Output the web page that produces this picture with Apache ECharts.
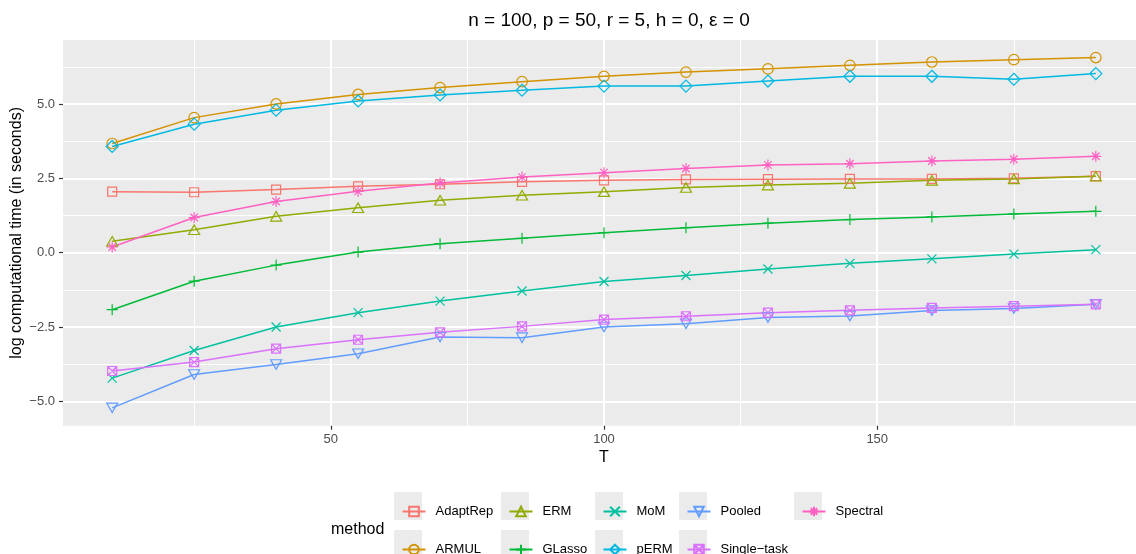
<!DOCTYPE html>
<html>
<head>
<meta charset="utf-8">
<script src="https://cdn.jsdelivr.net/npm/echarts@6/dist/echarts.min.js"></script>
<style>
html,body{margin:0;padding:0;background:#fff;}
#chart{width:1136px;height:554px;}
</style>
</head>
<body>
<div id="chart"></div>
<script>
// ---- data ----
const T = [10, 25, 40, 55, 70, 85, 100, 115, 130, 145, 160, 175, 190];
const methods = ['AdaptRep', 'ARMUL', 'ERM', 'GLasso', 'MoM', 'pERM', 'Pooled', 'Single-task', 'Spectral'];
const adaptRep   = [2.05, 2.03, 2.12, 2.23, 2.30, 2.38, 2.43, 2.46, 2.47, 2.48, 2.48, 2.50, 2.57];
const armul      = [3.67, 4.54, 5.00, 5.32, 5.55, 5.75, 5.93, 6.07, 6.18, 6.30, 6.41, 6.49, 6.56];
const erm        = [0.38, 0.77, 1.22, 1.51, 1.76, 1.93, 2.05, 2.19, 2.27, 2.33, 2.43, 2.48, 2.57];
const glasso     = [-1.92, -0.96, -0.42, 0.02, 0.30, 0.48, 0.67, 0.84, 0.99, 1.11, 1.20, 1.30, 1.39];
const mom        = [-4.22, -3.29, -2.50, -2.02, -1.63, -1.29, -0.97, -0.77, -0.55, -0.36, -0.21, -0.05, 0.10];
const perm       = [3.57, 4.32, 4.79, 5.10, 5.30, 5.46, 5.60, 5.60, 5.77, 5.93, 5.93, 5.83, 6.02];
const pooled     = [-5.22, -4.10, -3.76, -3.40, -2.84, -2.86, -2.50, -2.39, -2.18, -2.13, -1.95, -1.88, -1.74];
const singleTask = [-3.98, -3.68, -3.23, -2.93, -2.68, -2.48, -2.25, -2.14, -2.02, -1.94, -1.86, -1.80, -1.74];
const spectral   = [0.19, 1.18, 1.72, 2.06, 2.34, 2.54, 2.69, 2.83, 2.95, 2.99, 3.08, 3.14, 3.24];
const values = [adaptRep, armul, erm, glasso, mom, perm, pooled, singleTask, spectral];

const xTicks = [50, 100, 150];
const xMinor = [25, 75, 125, 175];
const yTicks = [-5, -2.5, 0, 2.5, 5];
const yMinor = [-3.75, -1.25, 1.25, 3.75, 6.25];

const titleText = 'n = 100, p = 50, r = 5, h = 0, \u03b5 = 0';
const xName = 'T';
const yName = 'log computational time (in seconds)';
const legendTitle = 'method';

// ---- styles ----
const colors = ['#F8766D', '#D39200', '#93AA00', '#00BA38', '#00C19F', '#00B9E3', '#619CFF', '#DB72FB', '#FF61C3'];
const symbols = [
  'rect',
  'circle',
  'triangle',
  'path://M5,0L5,10M0,5L10,5',
  'path://M0,0L10,10M10,0L0,10',
  'diamond',
  'path://M0,0L10,0L5,8.66Z',
  'path://M0,0L10,0L10,10L0,10ZM0,0L10,10M10,0L0,10',
  'path://M5,0L5,10M0,5L10,5M1.6,1.6L8.4,8.4M8.4,1.6L1.6,8.4'
];
const symbolSizes = [9, 10.5, [11, 9.5], 11, 9, 12, [11, 9.5], 9, 11];
const FONT = '"Liberation Sans", Arial, sans-serif';
const X_MIN = 1, X_MAX = 199, Y_MIN = -5.82, Y_MAX = 7.15;

const series = [];
methods.forEach((m, i) => {
  series.push({
    type: 'line', name: m, z: 3,
    data: T.map((t, j) => [t, values[i][j]]),
    symbol: symbols[i], symbolSize: symbolSizes[i], showAllSymbol: true,
    lineStyle: {color: colors[i], width: 1.5},
    itemStyle: {color: 'rgba(0,0,0,0)', borderColor: colors[i], borderWidth: 1.2},
    emphasis: {disabled: true}
  });
});

// legend: column-major, 2 rows
const colLeft = [394, 501, 595, 679, 794];
const rowCenter = [506, 544];
const legends = [];
const graphics = [];
methods.forEach((m, i) => {
  const c = Math.floor(i / 2), r = i % 2;
  graphics.push({type: 'rect', left: colLeft[c], top: rowCenter[r] - 14, shape: {width: 28, height: 28}, style: {fill: '#EBEBEB'}, z: 0});
  legends.push({
    data: [m], left: colLeft[c] + 2.5, top: rowCenter[r] - 6,
    itemWidth: 23, itemHeight: 12, selectedMode: false,
    formatter: n => n.replace('-', '\u2212'),
    textStyle: {fontSize: 13, color: '#000', fontFamily: FONT, padding: [0, 0, 0, 5]}
  });
});

const chart = echarts.init(document.getElementById('chart'), null, {renderer: 'canvas'});
chart.setOption({
  animation: false,
  backgroundColor: '#ffffff',
  title: [
    {text: titleText, left: 604, top: 6, textAlign: 'center',
     textStyle: {fontSize: 19, fontWeight: 'normal', color: '#000', fontFamily: FONT}},
    {text: legendTitle, left: 326, top: 517,
     textStyle: {fontSize: 16, fontWeight: 'normal', color: '#000', fontFamily: FONT}}
  ],
  grid: {left: 63, top: 40, right: -9, bottom: 128.3, show: true, backgroundColor: '#EBEBEB', borderWidth: 0,
         containLabel: false, outerBoundsMode: 'none'},
  xAxis: [{
    type: 'value', min: X_MIN, max: X_MAX,
    name: xName, nameLocation: 'middle', nameGap: 24, nameMoveOverlap: false,
    nameTextStyle: {fontSize: 16, color: '#000', fontFamily: FONT},
    axisLine: {show: false, onZero: false},
    axisTick: {show: true, customValues: xTicks, length: 4, lineStyle: {color: '#333333', width: 1.2}},
    axisLabel: {customValues: xTicks, margin: 7, fontSize: 13, color: '#4D4D4D', fontFamily: FONT, formatter: v => String(v)},
    splitLine: {show: true, lineStyle: {color: '#ffffff', width: 2}},
    z: 1
  }, {
    type: 'value', min: X_MIN, max: X_MAX, position: 'top',
    axisLine: {show: false, onZero: false},
    axisTick: {show: false, customValues: xMinor},
    axisLabel: {show: false, customValues: xMinor},
    splitLine: {show: true, lineStyle: {color: '#ffffff', width: 1}},
    z: 0
  }],
  yAxis: [{
    type: 'value', min: Y_MIN, max: Y_MAX,
    name: yName, nameLocation: 'middle', nameGap: 38, nameRotate: 90, nameMoveOverlap: false,
    nameTextStyle: {fontSize: 16, color: '#000', fontFamily: FONT},
    axisLine: {show: false, onZero: false},
    axisTick: {show: true, customValues: yTicks, length: 4, lineStyle: {color: '#333333', width: 1.2}},
    axisLabel: {customValues: yTicks, margin: 8, fontSize: 13, color: '#4D4D4D', fontFamily: FONT,
      formatter: v => (v < 0 ? '\u2212' : '') + Math.abs(v).toFixed(1)},
    splitLine: {show: true, lineStyle: {color: '#ffffff', width: 2}},
    z: 1
  }, {
    type: 'value', min: Y_MIN, max: Y_MAX, position: 'right',
    axisLine: {show: false, onZero: false},
    axisTick: {show: false, customValues: yMinor},
    axisLabel: {show: false, customValues: yMinor},
    splitLine: {show: true, lineStyle: {color: '#ffffff', width: 1}},
    z: 0
  }],
  legend: legends,
  graphic: graphics,
  series: series
});
</script>
</body>
</html>
